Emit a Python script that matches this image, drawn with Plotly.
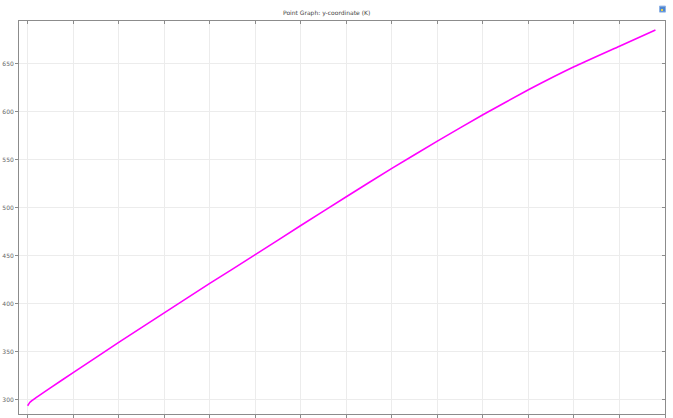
import plotly.graph_objects as go

# Point graph: temperature (K) along the y-coordinate
coord = [0.0, 0.05, 0.1, 0.25, 0.5, 1, 2, 3, 4, 5, 6, 7, 8, 9, 10, 11, 12, 13, 13.79]
temp_k = [293.4, 297.0, 299.0, 304.0, 312.0, 328.0, 359.5, 390.3, 421.0, 451.0,
          481.5, 511.5, 541.0, 569.5, 597.0, 623.0, 647.0, 668.5, 685.5]

title_text = "Point Graph: y-coordinate (K)"

W, H = 673, 418
L, R, T, B = 19, 8, 21, 1
x_range = [-0.19, 14.0]
y_range = [284.8, 694.8]

axis_col = "#8c8c8c"
grid_col = "#ececec"
label_col = "#666666"

fig = go.Figure()
fig.add_trace(go.Scatter(x=coord, y=temp_k, mode="lines",
                         line=dict(color="#ff00ff", width=1.6, shape="spline", smoothing=0.5),
                         showlegend=False, hoverinfo="skip"))
# companion trace so the top/right frame axes render
fig.add_trace(go.Scatter(x=coord, y=temp_k, mode="lines", xaxis="x2", yaxis="y2",
                         line=dict(color="rgba(0,0,0,0)", width=0),
                         showlegend=False, hoverinfo="skip"))

common = dict(showline=True, linecolor=axis_col, linewidth=1, zeroline=False)

fig.update_layout(
    width=W, height=H,
    margin=dict(l=L, r=R, t=T, b=B),
    paper_bgcolor="white", plot_bgcolor="white",
    font=dict(family="DejaVu Sans", size=6, color=label_col),
    xaxis=dict(range=x_range, tick0=0, dtick=1, showgrid=True, gridcolor=grid_col,
               gridwidth=1, ticks="outside", ticklen=3, tickcolor=axis_col,
               showticklabels=False, **common),
    yaxis=dict(range=y_range, tick0=0, dtick=50, showgrid=True, gridcolor=grid_col,
               gridwidth=1, ticks="outside", ticklen=3, tickcolor=axis_col,
               tickfont=dict(size=6, color=label_col), **common),
    xaxis2=dict(range=x_range, tick0=0, dtick=1, overlaying="x", side="top",
                anchor="y", showgrid=False, ticks="inside", ticklen=3,
                tickcolor=axis_col, showticklabels=False, **common),
    yaxis2=dict(range=y_range, tick0=0, dtick=50, overlaying="y", side="right",
                anchor="x", showgrid=False, ticks="inside", ticklen=3,
                tickcolor=axis_col, showticklabels=False, **common),
)

pw = W - L - R
ph = H - T - B


def px_to_paper(px, py):
    return (px - L) / pw, (H - B - py) / ph


tx, ty = px_to_paper(326.5, 13)
fig.add_annotation(text=title_text, x=tx, y=ty, xref="paper", yref="paper",
                   showarrow=False, xanchor="center", yanchor="middle",
                   font=dict(family="DejaVu Sans", size=6, color="#444444"))

# small toolbar icon in the corner
x0, y0 = px_to_paper(659.5, 12)
x1, y1 = px_to_paper(665.5, 6)
fig.add_shape(type="rect", xref="paper", yref="paper", x0=x0, y0=y0, x1=x1, y1=y1,
              fillcolor="#4f86d0", line=dict(color="#8fb3e6", width=1))
x0, y0 = px_to_paper(661, 11)
x1, y1 = px_to_paper(663, 9)
fig.add_shape(type="rect", xref="paper", yref="paper", x0=x0, y0=y0, x1=x1, y1=y1,
              fillcolor="#e8d04a", line=dict(width=0))

fig.write_html("out.html")
